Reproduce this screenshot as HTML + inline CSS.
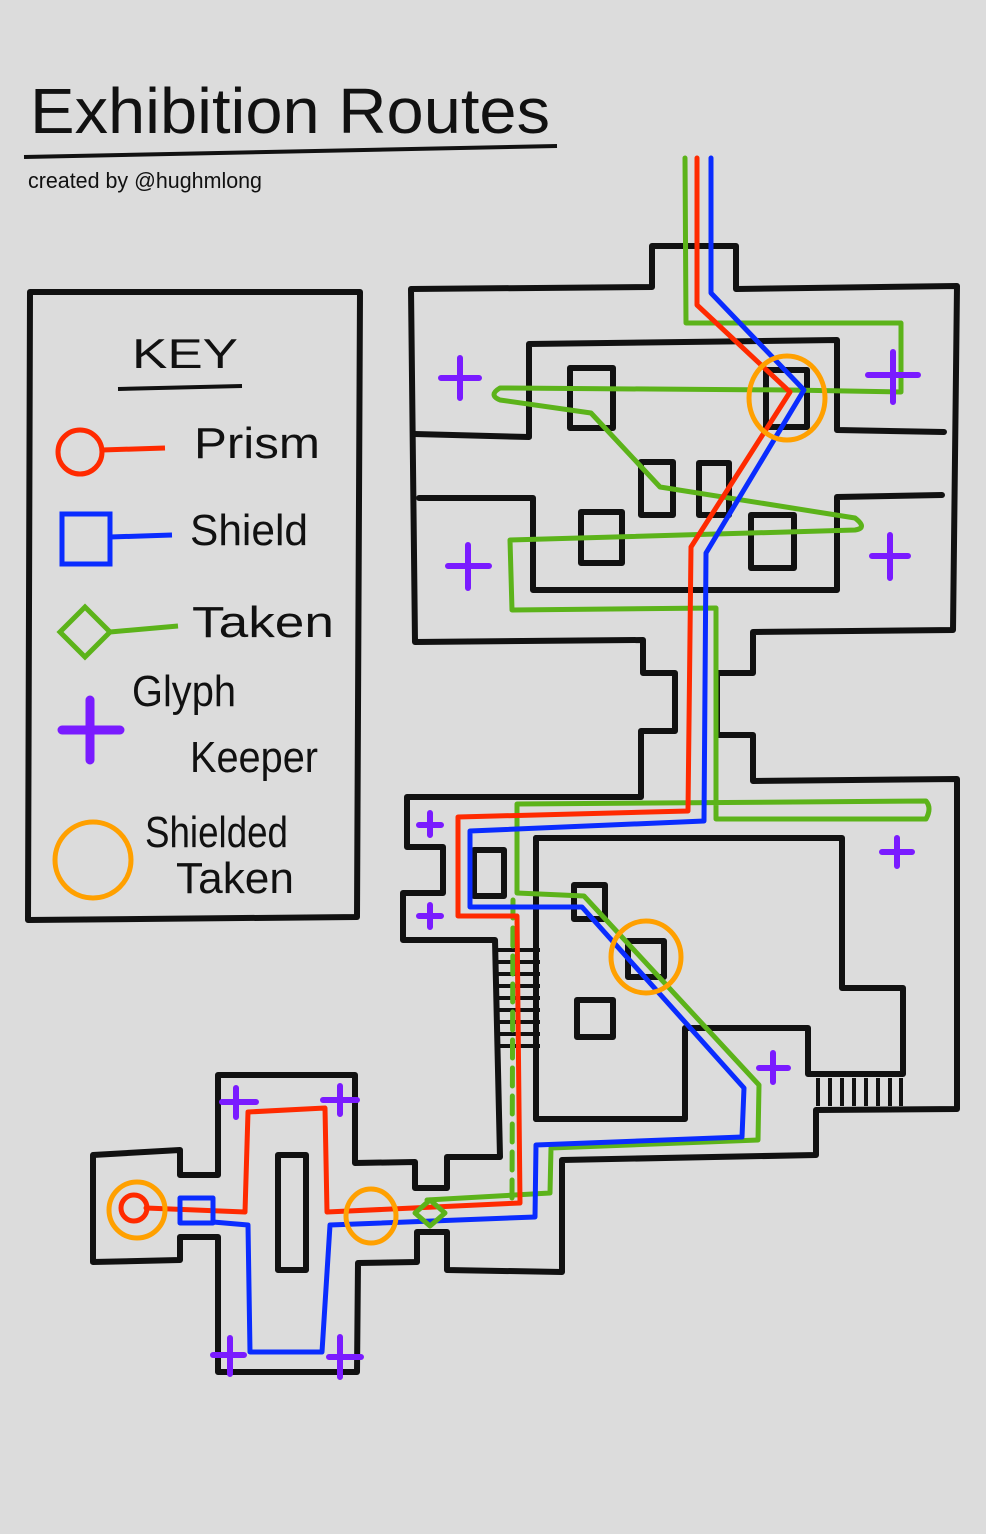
<!DOCTYPE html>
<html><head><meta charset="utf-8"><style>
html,body{margin:0;padding:0;background:#dcdcdc;}
svg{display:block}
text{font-family:"Liberation Sans",sans-serif;fill:#111;}
</style></head><body>
<svg width="986" height="1534" viewBox="0 0 986 1534" xmlns="http://www.w3.org/2000/svg">
<rect width="986" height="1534" fill="#dcdcdc"/>
<!-- Title -->
<text x="30" y="133" font-size="64" textLength="520" lengthAdjust="spacingAndGlyphs">Exhibition Routes</text>
<path d="M24 157 L557 146" stroke="#111" stroke-width="4" fill="none"/>
<text x="28" y="188" font-size="22" textLength="234" lengthAdjust="spacingAndGlyphs">created by @hughmlong</text>

<g fill="none" stroke="#111" stroke-width="6" stroke-linejoin="round" stroke-linecap="round">
<!-- legend box -->
<path d="M30 292 L360 292 L357 917 L28 920 Z"/>
<!-- top building outer -->
<path d="M411 289 L652 287 L652 246 L736 246 L736 289 L957 286 L953 630 L753 632 L753 673 L717 673 L717 735 L753 735 L753 781 L957 779 L957 1109 L816 1110 L816 1155 L562 1160 L562 1272 L447 1270 L447 1232 L417 1232 L417 1262 L358 1263 L357 1372 L218 1372 L218 1237 L180 1237 L180 1260 L93 1262 L93 1155 L180 1150 L180 1175 L218 1175 L218 1075 L355 1075 L355 1163 L415 1162 L415 1188 L447 1188 L447 1157 L500 1157 L495 940 L403 940 L403 893 L443 893 L443 847 L407 847 L407 797 L641 797 L641 731 L675 731 L675 673 L643 673 L643 640 L415 642 Z"/>
<!-- top inner walls -->
<path d="M415 434 L529 437 L529 344 L837 340 L837 430 L944 432"/>
<path d="M419 498 L533 498 L533 590 L837 590 L837 497 L942 495"/>
<!-- lower inner room -->
<path d="M536 838 L842 838 L842 988 L903 988 L903 1074 L808 1074 L808 1028 L685 1028 L685 1119 L536 1119 Z"/>
<path d="M536 838 L536 1119" />
<!-- inner lower corridor -->
<path d="M545 1120 L545 1145" stroke-width="0"/>
<!-- pillars -->
<rect x="570" y="368" width="43" height="60"/>
<rect x="641" y="462" width="32" height="53"/>
<rect x="699" y="463" width="30" height="52"/>
<rect x="581" y="512" width="41" height="51"/>
<rect x="751" y="515" width="43" height="53"/>
<rect x="766" y="370" width="41" height="57"/>
<rect x="474" y="850" width="30" height="46"/>
<rect x="574" y="885" width="31" height="34"/>
<rect x="628" y="941" width="36" height="36"/>
<rect x="577" y="1000" width="36" height="37"/>
<rect x="278" y="1155" width="28" height="115"/>
</g>
<!-- stairs -->
<g stroke="#111" stroke-width="4">
<line x1="495" y1="950" x2="540" y2="950"/><line x1="495" y1="962" x2="540" y2="962"/>
<line x1="495" y1="974" x2="540" y2="974"/><line x1="495" y1="986" x2="540" y2="986"/>
<line x1="495" y1="998" x2="540" y2="998"/><line x1="495" y1="1010" x2="540" y2="1010"/>
<line x1="495" y1="1022" x2="540" y2="1022"/><line x1="495" y1="1034" x2="540" y2="1034"/>
<line x1="495" y1="1046" x2="540" y2="1046"/>
<line x1="818" y1="1078" x2="818" y2="1106"/><line x1="830" y1="1078" x2="830" y2="1106"/>
<line x1="842" y1="1078" x2="842" y2="1106"/><line x1="854" y1="1078" x2="854" y2="1106"/>
<line x1="866" y1="1078" x2="866" y2="1106"/><line x1="878" y1="1078" x2="878" y2="1106"/>
<line x1="890" y1="1078" x2="890" y2="1106"/><line x1="901" y1="1078" x2="901" y2="1106"/>
</g>
<!-- routes -->
<g fill="none" stroke-width="5" stroke-linejoin="round" stroke-linecap="round">
<path stroke="#5cb31a" d="M685 158 L686 323 L901 323 L901 392 L790 390 L500 388 Q488 395 500 400 L591 413 L660 487 L855 518 Q868 528 855 530 L510 540 L512 610 L716 608 L716 819 L926 819 Q932 808 926 801 L517 804 L517 893 L584 896 L759 1085 L758 1140 L551 1148 L550 1193 L427 1200"/>
<path stroke="#5cb31a" d="M513 900 L512 1200" stroke-dasharray="18 10"/>
<path stroke="#ff2a00" d="M697 158 L697 305 L790 392 L691 547 L688 811 L458 817 L458 916 L517 916 L520 1203 L327 1212 L325 1108 L248 1112 L245 1212 L146 1208"/>
<path stroke="#0a2cff" d="M711 158 L711 293 L804 390 L706 553 L704 821 L470 831 L470 907 L582 907 L744 1088 L742 1137 L536 1145 L535 1217 L330 1225 L322 1352 L250 1352 L248 1225 L213 1222"/>
<rect x="180" y="1198" width="33" height="25" stroke="#0a2cff"/>
<circle cx="134" cy="1208" r="13" stroke="#ff2a00"/>
<path d="M430 1200 L445 1213 L430 1226 L415 1213 Z" stroke="#5cb31a"/>
<g stroke="#ffa000">
<circle cx="137" cy="1210" r="28"/>
<ellipse cx="371" cy="1216" rx="25" ry="27"/>
<ellipse cx="787" cy="398" rx="38" ry="42"/>
<ellipse cx="646" cy="957" rx="35" ry="36"/>
</g>
</g>
<!-- glyph crosses -->
<g stroke="#7a1bff" stroke-width="6" stroke-linecap="round">
<path d="M460 358 V398 M441 378 H479"/>
<path d="M893 352 V402 M868 375 H918"/>
<path d="M468 545 V588 M448 566 H489"/>
<path d="M890 535 V578 M872 556 H908"/>
<path d="M430 813 V835 M419 825 H441"/>
<path d="M430 905 V927 M419 916 H441"/>
<path d="M897 838 V866 M882 852 H912"/>
<path d="M773 1053 V1082 M759 1068 H788"/>
<path d="M236 1088 V1117 M222 1102 H256"/>
<path d="M340 1086 V1114 M323 1100 H357"/>
<path d="M230 1338 V1374 M213 1355 H244"/>
<path d="M340 1337 V1377 M329 1357 H361"/>
<path d="M90 700 V760 M62 730 H120" stroke-width="9"/>
</g>
<!-- legend -->
<text x="132" y="368" font-size="42" textLength="106" lengthAdjust="spacingAndGlyphs">KEY</text>
<path d="M118 389 L242 386" stroke="#111" stroke-width="4"/>
<g fill="none" stroke-width="5">
<circle cx="80" cy="452" r="22" stroke="#ff2a00"/><line x1="102" y1="450" x2="165" y2="448" stroke="#ff2a00"/>
<rect x="62" y="514" width="48" height="50" stroke="#0a2cff"/><line x1="110" y1="537" x2="172" y2="535" stroke="#0a2cff"/>
<path d="M85 607 L110 632 L85 657 L60 632 Z" stroke="#5cb31a"/><line x1="110" y1="632" x2="178" y2="626" stroke="#5cb31a"/>
<circle cx="93" cy="860" r="38" stroke="#ffa000"/>
</g>
<g font-size="44">
<text x="194" y="458" textLength="126" lengthAdjust="spacingAndGlyphs">Prism</text>
<text x="190" y="545" textLength="118" lengthAdjust="spacingAndGlyphs">Shield</text>
<text x="192" y="637" textLength="142" lengthAdjust="spacingAndGlyphs">Taken</text>
<text x="132" y="706" textLength="104" lengthAdjust="spacingAndGlyphs">Glyph</text>
<text x="190" y="772" textLength="128" lengthAdjust="spacingAndGlyphs">Keeper</text>
<text x="145" y="847" textLength="143" lengthAdjust="spacingAndGlyphs">Shielded</text>
<text x="176" y="893" textLength="118" lengthAdjust="spacingAndGlyphs">Taken</text>
</g>
</svg>
</body></html>
